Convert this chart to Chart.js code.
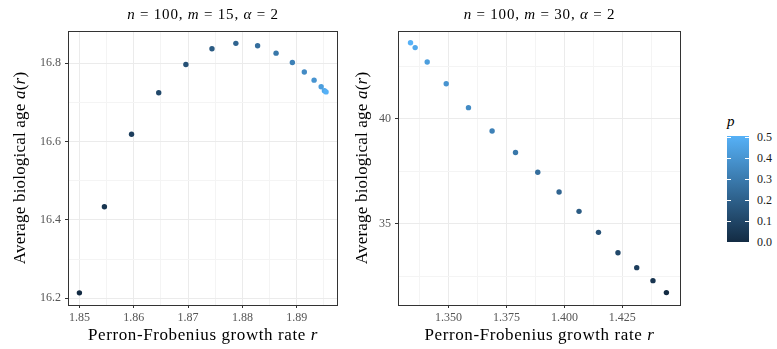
<!DOCTYPE html>
<html>
<head>
<meta charset="utf-8">
<script src="https://cdn.jsdelivr.net/npm/chart.js@4.4.1/dist/chart.umd.min.js"></script>
<style>
  body { margin: 0; background: #fff; width: 777px; height: 349px; overflow: hidden; position: relative; font-family: "Liberation Serif", serif; }
  canvas { position: absolute; top: 0; }
  #c1 { left: 0; }
  #c2 { left: 345px; }
  #barra { position: absolute; left: 727px; top: 136px; width: 22px; height: 106px;
           background: linear-gradient(to top, #132B43, #56B1F7); }
  .marca { position: absolute; height: 1px; width: 4px; background: #fff; }
  .rotulo { position: absolute; left: 757px; font-size: 12px; color: #1a1a1a; line-height: 12px; }
  #titulo-p { position: absolute; left: 727px; top: 113px; font-size: 15px; font-style: italic; }
</style>
</head>
<body>
<canvas id="c1" width="345" height="349"></canvas>
<canvas id="c2" width="345" height="349"></canvas>
<div id="barra"></div>
<div id="titulo-p">p</div>

<script>
// --- Dados do painel esquerdo (m = 15) ---
const r1 = [1.8500, 1.8546, 1.8596, 1.8646, 1.8696, 1.8744, 1.8788, 1.8828, 1.8862, 1.8892, 1.8914, 1.8932, 1.8945, 1.8951, 1.8954];
const a1 = [16.214, 16.434, 16.619, 16.725, 16.797, 16.837, 16.851, 16.845, 16.826, 16.802, 16.778, 16.757, 16.740, 16.730, 16.727];
const p1 = [0, 0.036, 0.071, 0.107, 0.143, 0.179, 0.214, 0.25, 0.286, 0.321, 0.357, 0.393, 0.429, 0.464, 0.5];

// --- Dados do painel direito (m = 30) ---
const r2 = [1.3336, 1.3356, 1.3408, 1.3490, 1.3586, 1.3688, 1.3789, 1.3885, 1.3977, 1.4063, 1.4147, 1.4231, 1.4312, 1.4382, 1.4440];
const a2 = [43.63, 43.40, 42.71, 41.68, 40.54, 39.43, 38.40, 37.46, 36.52, 35.60, 34.60, 33.63, 32.92, 32.30, 31.73];
const p2 = [0.5, 0.464, 0.429, 0.393, 0.357, 0.321, 0.286, 0.25, 0.214, 0.179, 0.143, 0.107, 0.071, 0.036, 0];

// --- Ticks ---
const x1Major = [1.85, 1.86, 1.87, 1.88, 1.89];
const x1Minor = [1.855, 1.865, 1.875, 1.885, 1.895];
const y1Major = [16.2, 16.4, 16.6, 16.8];
const y1Minor = [16.3, 16.5, 16.7];
const x2Major = [1.350, 1.375, 1.400, 1.425];
const x2Minor = [1.3375, 1.3625, 1.3875, 1.4125, 1.4375];
const y2Major = [35, 40];
const y2Minor = [32.5, 37.5, 42.5];
const legendTicks = [0.0, 0.1, 0.2, 0.3, 0.4, 0.5];

const FONTE = '"Liberation Serif", serif';

// cor da escala contínua (p de 0 a 0.5)
function corP(p) {
    const t = p / 0.5;
    const c0 = [19, 43, 67], c1 = [86, 177, 247];
    const c = c0.map((v, i) => Math.round(v + (c1[i] - v) * t));
    return `rgb(${c[0]},${c[1]},${c[2]})`;
}

// texto com partes em itálico
function textoRico(ctx, partes, x, y, tam, esp, ang) {
    ctx.save();
    ctx.translate(x, y);
    ctx.rotate(ang || 0);
    ctx.textBaseline = 'middle';
    ctx.textAlign = 'left';
    ctx.fillStyle = '#000';
    ctx.letterSpacing = esp + 'px';
    const fonte = p => (p[1] ? 'italic ' : '') + tam + 'px ' + FONTE;
    let w = 0;
    partes.forEach(p => { ctx.font = fonte(p); w += ctx.measureText(p[0]).width; });
    let cx = -w / 2;
    partes.forEach(p => { ctx.font = fonte(p); ctx.fillText(p[0], cx, 0); cx += ctx.measureText(p[0]).width; });
    ctx.restore();
}

const painel = {
    id: 'painel',
    afterDraw(chart, args, opts) {
        const ctx = chart.ctx;
        const a = chart.chartArea;
        ctx.save();
        ctx.strokeStyle = '#333';
        ctx.lineWidth = 1;
        ctx.strokeRect(a.left + 0.5, a.top + 0.5, a.right - a.left - 1, a.bottom - a.top);
        ctx.restore();
        const cx = (a.left + a.right) / 2;
        textoRico(ctx, opts.titulo, cx, 15, 15, 0.8);
        textoRico(ctx, [['Perron-Frobenius growth rate ', false], ['r', true]], cx, 335.5, 17, 0.6);
        textoRico(ctx, [['Average biological age ', false], ['a', true], ['(', false], ['r', true], [')', false]],
                  opts.yTituloX, (a.top + a.bottom) / 2, 17, 0.2, -Math.PI / 2);
    }
};

function eixo(min, max, major, minor, fmt, tamanho, horizontal) {
    return {
        type: 'linear', min: min, max: max,
        afterBuildTicks: s => {
            s.ticks = major.map(v => ({ value: v })).concat(minor.map(v => ({ value: v, minor: true })));
        },
        afterFit: s => { if (horizontal) s.height = tamanho; else s.width = tamanho; },
        border: { display: false },
        grid: {
            color: c => (c.tick && c.tick.minor) ? '#f4f4f4' : '#ebebeb',
            lineWidth: 1,
            tickLength: 3,
            tickColor: c => (c.tick && c.tick.minor) ? 'rgba(0,0,0,0)' : '#333',
            tickWidth: 1
        },
        ticks: {
            autoSkip: false, maxRotation: 0,
            padding: horizontal ? 3 : 4,
            color: '#555',
            font: { family: FONTE, size: 12 },
            callback: (v, i, t) => (t[i] && t[i].minor) ? '' : fmt(v)
        }
    };
}

function criaGrafico(id, xs, ys, ps, ex, ey, padDir, titulo, yTituloX) {
    return new Chart(document.getElementById(id), {
        type: 'scatter',
        data: {
            datasets: [{
                data: xs.map((x, i) => ({ x: x, y: ys[i] })),
                backgroundColor: ps.map(corP),
                pointRadius: 2.7,
                borderWidth: 0
            }]
        },
        options: {
            responsive: false,
            animation: false,
            layout: { padding: { left: 0, right: padDir, top: 31, bottom: 0 } },
            plugins: {
                legend: { display: false },
                tooltip: { enabled: false },
                painel: { titulo: titulo, yTituloX: yTituloX }
            },
            scales: { x: ex, y: ey }
        },
        plugins: [painel]
    });
}

criaGrafico('c1', r1, a1, p1,
    eixo(1.8479, 1.8976, x1Major, x1Minor, v => v.toFixed(2), 44, true),
    eixo(16.183, 16.8825, y1Major, y1Minor, v => v.toFixed(1), 68, false),
    7, [['n', true], [' = 100, ', false], ['m', true], [' = 15, ', false], ['α', true], [' = 2', false]], 20.5);

criaGrafico('c2', r2, a2, p2,
    eixo(1.3282, 1.4503, x2Major, x2Minor, v => v.toFixed(3), 44, true),
    eixo(31.14, 44.19, y2Major, y2Minor, v => v.toFixed(0), 53, false),
    9, [['n', true], [' = 100, ', false], ['m', true], [' = 30, ', false], ['α', true], [' = 2', false]], 17.5);

// --- Legenda de cores (barra) ---
legendTicks.forEach(v => {
    const y = 242 - v / 0.5 * 105.5;
    [727, 745].forEach(x => {
        const m = document.createElement('div');
        m.className = 'marca';
        m.style.left = x + 'px';
        m.style.top = Math.round(y) + 'px';
        document.body.appendChild(m);
    });
    const r = document.createElement('div');
    r.className = 'rotulo';
    r.style.top = (y - 6) + 'px';
    r.textContent = v.toFixed(1);
    document.body.appendChild(r);
});
</script>
</body>
</html>
